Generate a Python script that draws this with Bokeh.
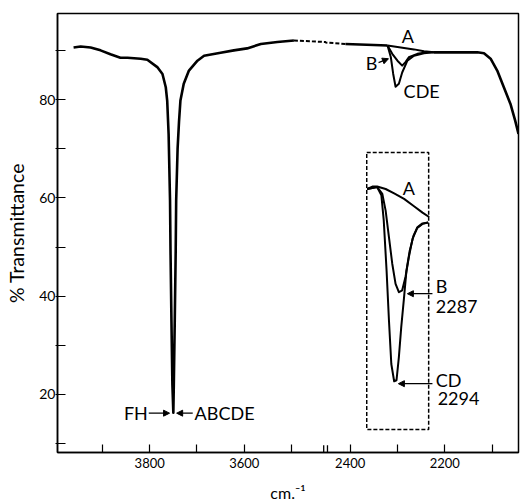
import numpy as np
from bokeh.plotting import figure
from bokeh.models import FixedTicker, Range1d, Arrow, NormalHead, Label
from bokeh.embed import file_html
from bokeh.resources import INLINE

# ---- broken wavenumber axis (cm^-1) ----
AXIS_START = 3995
BREAK_HI = 3428
BREAK_LO = 2452
AXIS_END = 2044


def xb(wn):
    wn = np.asarray(wn, dtype=float)
    return np.where(wn >= BREAK_HI, AXIS_START - wn,
                    (AXIS_START - BREAK_HI) + (BREAK_LO - wn))


# ---- data ----
# common spectrum, high-frequency part
main_wn = [3961, 3946, 3925, 3904, 3883, 3862, 3847, 3819, 3805, 3784, 3773, 3766,
           3763, 3760, 3757, 3756, 3754, 3752, 3750, 3749, 3747, 3745, 3744, 3741,
           3738, 3735, 3728, 3717, 3699, 3685, 3650, 3622, 3594, 3565, 3530, 3495]
main_T = [90.6, 90.8, 90.6, 90.0, 89.2, 88.5, 88.5, 88.3, 88.1, 86.6, 85.2, 82.5,
          79.8, 73.0, 59.5, 49.3, 35.0, 22.0, 16.3, 22.0, 35.0, 49.3, 59.5, 70.0,
          75.5, 79.8, 83.2, 85.9, 87.9, 88.9, 89.5, 90.0, 90.4, 91.3, 91.7, 92.0]
# dashed bridge across the break
gap_wn = [3495, 3428, 2452, 2410]
gap_T = [92.0, 91.7, 91.6, 91.3]
# common part before the 2300 band
head_wn = [2410, 2380, 2350, 2321]
head_T = [91.3, 91.2, 91.1, 91.0]
# 2300 band, samples
A_wn = [2321, 2293, 2265, 2244, 2223]
A_T = [91.0, 90.6, 90.2, 89.8, 89.6]
B_wn = [2321, 2311, 2300, 2290, 2283, 2276, 2258, 2237, 2223]
B_T = [91.0, 89.3, 87.9, 86.9, 87.6, 88.6, 89.3, 89.6, 89.6]
CDE_wn = [2321, 2314, 2309, 2304, 2297, 2290, 2279, 2265, 2244, 2223]
CDE_T = [91.0, 88.6, 85.2, 82.6, 83.2, 85.5, 87.9, 88.9, 89.4, 89.6]
# common tail
tail_wn = [2223, 2166, 2131, 2117, 2103, 2089, 2075, 2061, 2051, 2044]
tail_T = [89.6, 89.6, 89.6, 89.4, 88.3, 85.9, 82.5, 79.1, 75.7, 73.0]

# inset (expanded)
inA_wn = [2364, 2353, 2343, 2325, 2307, 2286, 2265, 2247, 2233]
inA_T = [61.8, 62.3, 62.3, 61.8, 60.9, 59.8, 58.3, 57.0, 56.1]
inB_wn = [2364, 2343, 2332, 2325, 2318, 2311, 2304, 2297, 2290, 2283, 2276, 2268,
          2258, 2247, 2235]
inB_T = [61.8, 62.2, 60.8, 57.4, 52.0, 46.6, 42.5, 40.8, 41.2, 43.9, 47.9, 51.7,
         53.9, 54.7, 55.0]
inCD_wn = [2364, 2343, 2334, 2329, 2323, 2318, 2313, 2307, 2302, 2297, 2292, 2286,
           2281, 2274, 2266, 2258, 2247, 2235]
inCD_T = [61.8, 62.2, 60.5, 55.4, 45.2, 35.1, 26.2, 22.7, 22.9, 27.6, 33.7, 39.8,
          45.2, 49.3, 52.3, 54.0, 54.8, 55.0]
inset_box_wn = [2365, 2234]
inset_box_T = [12.9, 69.2]

# ticks
x_ticks = [3900, 3800, 3700, 3600, 3500, 2400, 2300, 2200, 2100]
x_tick_labels = ["", "3800", "", "3600", "", "2400", "", "2200", ""]
y_ticks = [10, 20, 30, 40, 50, 60, 70, 80, 90]
y_tick_labels = ["", "20", "", "40", "", "60", "", "80", ""]

FONT = "Lato"

p = figure(width=520, height=504, output_backend="svg", toolbar_location=None,
           x_range=Range1d(0, float(xb(AXIS_END))), y_range=Range1d(8.2, 97.5),
           min_border_left=57, min_border_right=2, min_border_top=13,
           min_border_bottom=52)
p.background_fill_color = "white"
p.border_fill_color = "white"
p.xgrid.grid_line_color = None
p.ygrid.grid_line_color = None
p.outline_line_color = "black"
p.outline_line_width = 1.5
p.outline_line_alpha = 1.0

xt = [int(v) for v in xb(x_ticks)]
p.xaxis.ticker = FixedTicker(ticks=xt)
p.xaxis.major_label_overrides = {t: l for t, l in zip(xt, x_tick_labels)}
p.yaxis.ticker = FixedTicker(ticks=y_ticks)
p.yaxis.major_label_overrides = {t: l for t, l in zip(y_ticks, y_tick_labels)}
for ax in (p.xaxis[0], p.yaxis[0]):
    ax.minor_tick_line_color = None
    ax.axis_line_color = "black"
    ax.axis_line_width = 1.5
    ax.major_tick_line_color = "black"
    ax.major_tick_line_width = 1.2
    ax.major_label_text_font = FONT
    ax.major_label_text_color = "black"
    ax.axis_label_text_font = FONT
    ax.axis_label_text_font_style = "normal"
    ax.axis_label_text_color = "black"
p.xaxis.major_tick_in = 8
p.xaxis.major_tick_out = 0
p.xaxis.major_label_standoff = 5
p.xaxis.major_label_text_font_size = "13px"
p.xaxis.axis_label = "cm.\u207b\u00b9"
p.xaxis.axis_label_text_font_size = "16px"
p.xaxis.axis_label_standoff = 12
p.yaxis.major_tick_in = 8
p.yaxis.major_tick_out = 2
p.yaxis.major_label_standoff = 0
p.yaxis.major_label_text_font_size = "14px"
p.yaxis.axis_label = "% Transmittance"
p.yaxis.axis_label_text_font_size = "19.5px"
p.yaxis.axis_label_standoff = 8

LW = 2.6
p.line(xb(main_wn), main_T, line_color="black", line_width=LW, line_join="round")
p.line(xb(gap_wn), gap_T, line_color="black", line_width=2, line_dash="4 2")
p.line(xb(head_wn), head_T, line_color="black", line_width=LW, line_join="round")
for w, t in ((A_wn, A_T), (B_wn, B_T), (CDE_wn, CDE_T)):
    p.line(xb(w), t, line_color="black", line_width=2, line_join="round")
p.line(xb(tail_wn), tail_T, line_color="black", line_width=LW, line_join="round")

# inset
bx = xb(inset_box_wn)
p.quad(left=bx[0], right=bx[1], bottom=inset_box_T[0], top=inset_box_T[1],
       fill_color=None, line_color="black", line_width=1.5, line_dash="4 2")
for w, t in ((inA_wn, inA_T), (inB_wn, inB_T), (inCD_wn, inCD_T)):
    p.line(xb(w), t, line_color="black", line_width=2, line_join="round")

# break marks on the x axis
brk = float(xb(BREAK_HI))
p.segment(x0=[brk - 4, brk + 4], x1=[brk - 4, brk + 4], y0=[8.2, 8.2], y1=[9.7, 9.7],
          line_color="black", line_width=1.3)

# annotations
arrows = [  # (wn_start, T_start, wn_end, T_end)
    (3802, 16.2, 3758, 16.2),
    (3709, 16.2, 3743, 16.2),
    (2340, 87.5, 2319, 88.3),
    (2226, 40.5, 2279, 40.5),
    (2226, 22.2, 2298, 22.2),
]
for ws, ts, we, te in arrows:
    p.add_layout(Arrow(end=NormalHead(size=6, fill_color="black", line_color="black"),
                       x_start=float(xb(ws)), y_start=ts, x_end=float(xb(we)), y_end=te,
                       line_color="black", line_width=1.3))

labels = [  # (text, wn, T, align)
    ("FH", 3804, 16.2, "right"),
    ("ABCDE", 3705, 16.2, "left"),
    ("A", 2278, 93.0, "center"),
    ("B", 2355, 87.5, "center"),
    ("CDE", 2287, 81.8, "left"),
    ("A", 2276, 62.1, "center"),
    ("B", 2219, 42.0, "left"),
    ("2287", 2219, 37.9, "left"),
    ("CD", 2219, 23.0, "left"),
    ("2294", 2215, 19.2, "left"),
]
for txt, w, t, al in labels:
    p.add_layout(Label(x=float(xb(w)), y=t, text=txt, text_align=al,
                       text_baseline="middle", text_font=FONT,
                       text_font_size="18px", text_color="black"))

open("out.html", "w").write(file_html(p, INLINE))
